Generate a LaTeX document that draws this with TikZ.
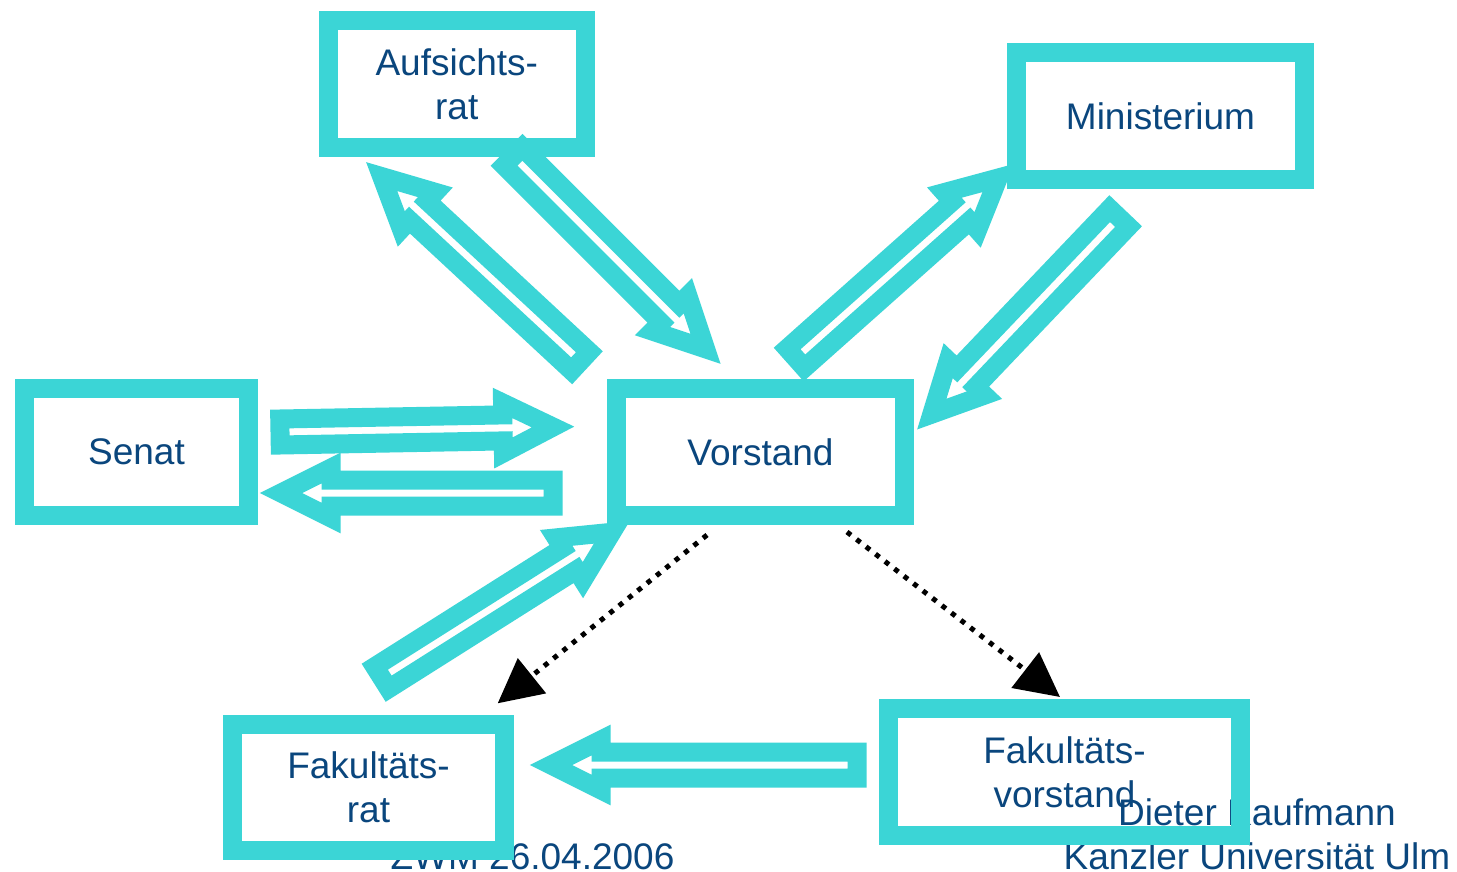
\documentclass[tikz,border=0pt]{standalone}
\usepackage{fontspec}
\setmainfont{Liberation Sans}
\usetikzlibrary{calc,arrows.meta}
\definecolor{cy}{RGB}{59,213,214}
\definecolor{tb}{RGB}{10,70,125}
\newcommand\blockarrow[2]{%
  \coordinate (bah) at ($(#2)!50pt!(#1)$);
  \draw[blk] ($(#1)!13pt!90:(#2)$) -- ($(bah)!13pt!90:(#2)$) -- ($(bah)!25pt!90:(#2)$) -- (#2)
    -- ($(bah)!25pt!-90:(#2)$) -- ($(bah)!13pt!-90:(#2)$) -- ($(#1)!13pt!-90:(#2)$) -- cycle;}
\begin{document}
\begin{tikzpicture}[x=1pt,y=-1pt,
  blk/.style={draw=cy,line width=19pt,line join=miter},
  box/.style={draw=cy,line width=19pt,inner sep=0pt,text=tb,align=center,
    font=\fontsize{37}{44}\selectfont},
  foot/.style={text=tb,inner sep=0pt,anchor=base,font=\fontsize{37}{44}\selectfont},
  dots/.style={draw=black,line width=5pt,dash pattern=on 5pt off 7pt,
    -{Triangle[length=44pt,width=44pt]}}]
\fill[white] (0,0) rectangle (1457,872);
\useasboundingbox (0,0) rectangle (1457,872);
% footer
\node[foot] (zwm) at (532.5,869) {ZWM 26.04.2006};
\node[foot] (dk) at (1257,825) {Dieter Kaufmann};
\node[foot] (ku) at (1257,869) {Kanzler Universität Ulm};
% boxes
\node[box,minimum width=256.5pt,minimum height=127pt] (aufs) at (456.75,84) {Aufsichts-\\rat};
\node[box,minimum width=288pt,minimum height=127pt] (mini) at (1160.5,116) {Ministerium};
\node[box,minimum width=224pt,minimum height=127pt] (senat) at (136.5,452) {Senat};
\node[box,minimum width=288pt,minimum height=127pt] (vorst) at (760.5,452) {Vorstand};
\node[box,minimum width=272pt,minimum height=126pt] (frat) at (368.5,787.5) {Fakultäts-\\rat};
\node[box,minimum width=352pt,minimum height=127pt] (fvor) at (1064.5,772) {Fakultäts-\\vorstand};
% arrow end points
\coordinate (aS) at (280,432);     \coordinate (aT) at (553,427);
\coordinate (bS) at (553,493);     \coordinate (bT) at (281,493);
\coordinate (cS) at (580.5,361.3); \coordinate (cT) at (381.7,176.6);
\coordinate (dS) at (513.2,156.5); \coordinate (dT) at (705.5,348.8);
\coordinate (eS) at (795.8,358.2); \coordinate (eT) at (998.3,178);
\coordinate (fS) at (1119.1,217.6);\coordinate (fT) at (931.8,414.1);
\coordinate (gS) at (381.7,677.7); \coordinate (gT) at (611.8,532.3);
\coordinate (hS) at (857,765);     \coordinate (hT) at (551,765);
\coordinate (p1) at (707,535);     \coordinate (p2) at (497.7,703.3);
\coordinate (q1) at (847,532);     \coordinate (q2) at (1060,697);
% block arrows
\blockarrow{aS}{aT}
\blockarrow{bS}{bT}
\blockarrow{cS}{cT}
\blockarrow{dS}{dT}
\blockarrow{eS}{eT}
\blockarrow{fS}{fT}
\blockarrow{gS}{gT}
\blockarrow{hS}{hT}
% dotted arrows
\draw[dots] (p1) -- (p2);
\draw[dots] (q1) -- (q2);
\end{tikzpicture}
\end{document}
